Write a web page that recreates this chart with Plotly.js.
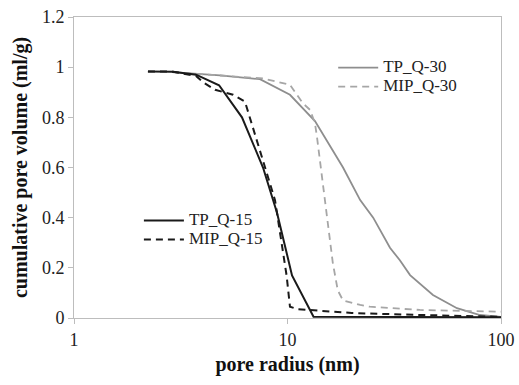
<!DOCTYPE html>
<html>
<head>
<meta charset="utf-8">
<script src="https://cdn.plot.ly/plotly-3.0.1.min.js"></script>
<style>html,body{margin:0;padding:0;background:#fff}</style>
</head>
<body>
<div id="chart" style="width:519px;height:385px"></div>
<script>
// pore radius (nm) and cumulative pore volume (ml/g)
const tpQ15_x = [2.22, 2.91, 3.73, 4.78, 6.12, 7.68, 8.93, 10.5, 13.24, 20, 40, 100];
const tpQ15_y = [0.983, 0.982, 0.97, 0.928, 0.80, 0.60, 0.42, 0.17, 0.005, 0.004, 0.003, 0.003];

const mipQ15_x = [2.22, 2.91, 3.73, 4.02, 4.58, 5.56, 6.32, 8.74, 9.9, 10.27, 11.2, 14.2, 20, 41.7, 100];
const mipQ15_y = [0.983, 0.982, 0.965, 0.94, 0.91, 0.89, 0.863, 0.47, 0.17, 0.045, 0.035, 0.028, 0.02, 0.012, 0.005];

const tpQ30_x = [2.88, 4.83, 7.43, 10.27, 13.45, 18.2, 21.9, 25.2, 30.2, 33.6, 37.5, 48.0, 62.2, 79.7, 100];
const tpQ30_y = [0.98, 0.967, 0.952, 0.89, 0.785, 0.60, 0.47, 0.40, 0.28, 0.23, 0.171, 0.092, 0.039, 0.012, 0.004];

const mipQ30_x = [2.88, 4.83, 7.68, 10.27, 11.8, 12.75, 13.45, 13.75, 15.0, 16.3, 17.2, 18.2, 21.9, 24.3, 41.7, 100];
const mipQ30_y = [0.98, 0.968, 0.955, 0.93, 0.856, 0.83, 0.776, 0.72, 0.46, 0.22, 0.11, 0.07, 0.052, 0.045, 0.032, 0.025];

const seriesNames = ['TP_Q-30', 'MIP_Q-30', 'TP_Q-15', 'MIP_Q-15'];

const xTicks = [1, 10, 100];
const xTickText = ['1', '10', '100'];

const serif = 'Liberation Serif, Times New Roman, serif';
const big = s => '<span style="font-size:17px">' + s + '</span>';

const traces = [
  {x: tpQ30_x, y: tpQ30_y, name: big(seriesNames[0]), mode: 'lines', legend: 'legend',
   line: {color: '#8e8e8e', width: 1.8}},
  {x: mipQ30_x, y: mipQ30_y, name: big(seriesNames[1]), mode: 'lines', legend: 'legend',
   line: {color: '#a6a6a6', width: 1.8, dash: '7px,5px'}},
  {x: tpQ15_x, y: tpQ15_y, name: big(seriesNames[2]), mode: 'lines', legend: 'legend2',
   line: {color: '#1a1a1a', width: 2}},
  {x: mipQ15_x, y: mipQ15_y, name: big(seriesNames[3]), mode: 'lines', legend: 'legend2',
   line: {color: '#1a1a1a', width: 2, dash: '7px,5px'}}
];

const axisCommon = {
  showgrid: false, zeroline: false,
  showline: true, linecolor: '#bdbdbd', linewidth: 1, mirror: true,
  ticks: 'outside', ticklen: 5, tickcolor: '#bdbdbd', tickwidth: 1,
  tickfont: {family: serif, size: 18, color: '#222'}
};

const legendCommon = {xanchor: 'left', yanchor: 'top', bgcolor: 'rgba(0,0,0,0)',
  font: {family: serif, size: 12, color: '#222'}, itemwidth: 40, tracegroupgap: 0};

const layout = {
  width: 519, height: 385,
  margin: {l: 74, r: 18, t: 17, b: 67},
  paper_bgcolor: '#fff', plot_bgcolor: '#fff',
  font: {family: serif, color: '#111'},
  xaxis: Object.assign({}, axisCommon, {
    type: 'log', range: [0, 2], tickvals: xTicks, ticktext: xTickText,
    title: {text: '<b>pore radius (nm)</b>', font: {family: serif, size: 20, color: '#111'}, standoff: 8}
  }),
  yaxis: Object.assign({}, axisCommon, {
    range: [0, 1.2], dtick: 0.2, tick0: 0,
    title: {text: '<b>cumulative pore volume (ml/g)</b>', font: {family: serif, size: 20, color: '#111'}, standoff: 8}
  }),
  legend: Object.assign({}, legendCommon, {x: 0.607, y: 0.88}),
  legend2: Object.assign({}, legendCommon, {x: 0.152, y: 0.372}),
  showlegend: true
};

Plotly.newPlot('chart', traces, layout, {displayModeBar: false, staticPlot: true});
</script>
</body>
</html>
